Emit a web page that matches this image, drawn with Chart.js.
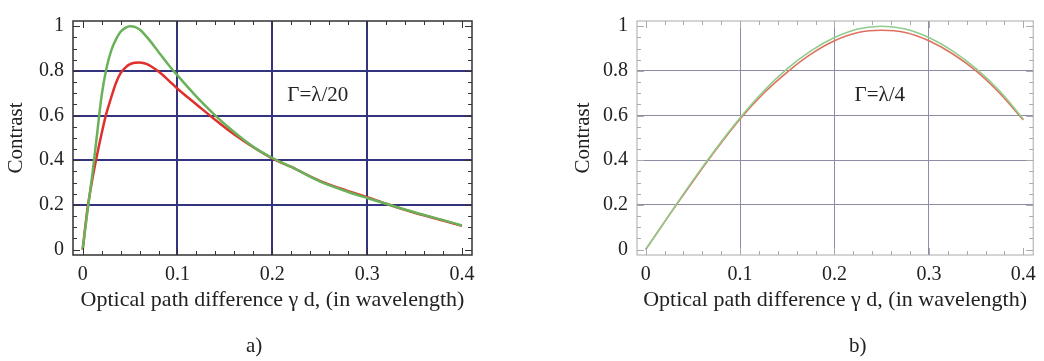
<!DOCTYPE html>
<html>
<head>
<meta charset="utf-8">
<script src="https://cdn.jsdelivr.net/npm/chart.js@4.4.1/dist/chart.umd.min.js"></script>
<style>
  body { margin: 0; background: #fff; width: 1044px; height: 361px; position: relative; overflow: hidden; }
  canvas { position: absolute; top: 0; }
  #chartA { left: 0; }
  #chartB { left: 544px; }
  .panel { position: absolute; top: 333px; font: 21px "Liberation Serif", "Times New Roman", serif; color: #222; }
</style>
</head>
<body>
<canvas id="chartA" width="520" height="361"></canvas>
<canvas id="chartB" width="500" height="361"></canvas>
<div class="panel" style="left:246px">a)</div>
<div class="panel" style="left:849px">b)</div>
<script>
// axis ticks shared by both panels
const xTickValues = [0, 0.1, 0.2, 0.3, 0.4];
const xTickLabels = ["0", "0.1", "0.2", "0.3", "0.4"];
const yTickValues = [0, 0.2, 0.4, 0.6, 0.8, 1];
const yTickLabels = ["0", "0.2", "0.4", "0.6", "0.8", "1"];

// panel a) Γ = λ/20
const aX = [0, 0.005, 0.01, 0.015, 0.02, 0.025, 0.03, 0.035, 0.04, 0.045, 0.05, 0.055, 0.06, 0.065, 0.07, 0.08, 0.09, 0.1,
            0.12, 0.14, 0.16, 0.18, 0.2, 0.22, 0.25, 0.28, 0.3, 0.32, 0.35, 0.38, 0.4];
const aGreen = [0, 0.17, 0.33, 0.51, 0.69, 0.81, 0.89, 0.94, 0.975, 0.993, 1.0, 0.997, 0.985, 0.965, 0.94, 0.885, 0.83, 0.78,
                0.685, 0.6, 0.525, 0.46, 0.41, 0.37, 0.305, 0.258, 0.231, 0.205, 0.167, 0.132, 0.108];
const aRed = [0, 0.18, 0.31, 0.42, 0.52, 0.61, 0.68, 0.745, 0.79, 0.815, 0.83, 0.837, 0.838, 0.834, 0.826, 0.797, 0.76, 0.72,
              0.65, 0.58, 0.515, 0.458, 0.408, 0.37, 0.308, 0.262, 0.235, 0.205, 0.165, 0.13, 0.106];

// panel b) Γ = λ/4
const bX = [0, 0.025, 0.05, 0.075, 0.1, 0.125, 0.15, 0.175, 0.2, 0.225, 0.25, 0.275, 0.3, 0.325, 0.35, 0.375, 0.4];
const bGreen = [0, 0.156, 0.31, 0.455, 0.59, 0.71, 0.81, 0.89, 0.95, 0.988, 1.0, 0.988, 0.95, 0.89, 0.81, 0.71, 0.585];
const bRed = [0, 0.155, 0.305, 0.45, 0.585, 0.70, 0.795, 0.875, 0.935, 0.972, 0.982, 0.972, 0.935, 0.877, 0.80, 0.70, 0.58];

const xTitle = "Optical path difference γ d, (in wavelength)";
const yTitle = "Contrast";

const SERIF = '"Liberation Serif", "Times New Roman", serif';

function pts(xs, ys) {
    return xs.map((x, i) => ({ x: x, y: ys[i] }));
}

// frame with inward ticks on all four sides + the Γ label
const framePlugin = {
    id: "frame",
    afterDraw(chart, args, o) {
        const { ctx, chartArea: a, scales: { x, y } } = chart;
        ctx.save();
        ctx.strokeStyle = o.color;
        ctx.lineWidth = o.width;
        ctx.strokeRect(a.left, a.top, a.right - a.left, a.bottom - a.top);

        ctx.lineWidth = 1;
        ctx.beginPath();
        for (let i = 0; i <= 20; i++) {
            const px = Math.round(x.getPixelForValue(i * 0.02)) + 0.5;
            const len = i % 5 === 0 ? 7 : 4;
            ctx.moveTo(px, a.bottom); ctx.lineTo(px, a.bottom - len);
            ctx.moveTo(px, a.top); ctx.lineTo(px, a.top + len);
        }
        for (let i = 0; i <= 20; i++) {
            const py = Math.round(y.getPixelForValue(i * 0.05)) + 0.5;
            const len = i % 4 === 0 ? 7 : 4;
            ctx.moveTo(a.left, py); ctx.lineTo(a.left + len, py);
            ctx.moveTo(a.right, py); ctx.lineTo(a.right - len, py);
        }
        ctx.stroke();

        ctx.fillStyle = "#222";
        ctx.font = "21px " + SERIF;
        ctx.textAlign = "center";
        ctx.textBaseline = "middle";
        ctx.fillText(o.label, x.getPixelForValue(o.labelX), y.getPixelForValue(o.labelY));
        ctx.restore();
    }
};

function makeChart(id, cfg) {
    return new Chart(document.getElementById(id), {
        type: "line",
        data: {
            datasets: [
                { data: pts(cfg.xs, cfg.green), borderColor: cfg.greenColor, borderWidth: cfg.lineWidth },
                { data: pts(cfg.xs, cfg.red), borderColor: cfg.redColor, borderWidth: cfg.lineWidth }
            ]
        },
        options: {
            responsive: false,
            animation: false,
            layout: { padding: { top: cfg.top, right: cfg.right, bottom: 46, left: 0 } },
            elements: {
                point: { radius: 0 },
                line: { tension: 0.4, cubicInterpolationMode: "monotone" }
            },
            plugins: {
                legend: { display: false },
                tooltip: { enabled: false },
                frame: { color: cfg.frameColor, width: cfg.frameWidth, label: cfg.label, labelX: 0.248, labelY: 0.69 }
            },
            scales: {
                x: {
                    type: "linear",
                    min: cfg.xMin, max: cfg.xMax,
                    afterBuildTicks: s => { s.ticks = xTickValues.map(v => ({ value: v })); },
                    afterFit: s => { s.height = 60; },
                    ticks: {
                        color: "#222", padding: 8, maxRotation: 0,
                        font: { family: SERIF, size: 20 },
                        callback: (v, i) => xTickLabels[i]
                    },
                    grid: {
                        drawTicks: false,
                        color: c => (c.tick && c.tick.value > 0.001 && c.tick.value < 0.399) ? cfg.gridColor : "rgba(0,0,0,0)",
                        lineWidth: cfg.gridWidth
                    },
                    border: { display: false },
                    title: {
                        display: true, text: xTitle, color: "#222",
                        font: { family: SERIF, size: 22 }, padding: { top: 0, bottom: 2 }
                    }
                },
                y: {
                    type: "linear",
                    min: -0.0243, max: 1.0235,
                    afterBuildTicks: s => { s.ticks = yTickValues.map(v => ({ value: v })); },
                    afterFit: s => { s.width = cfg.yWidth; },
                    ticks: {
                        color: "#222", padding: 9,
                        font: { family: SERIF, size: 20 },
                        callback: (v, i) => yTickLabels[i]
                    },
                    grid: {
                        drawTicks: false,
                        color: c => (c.tick && c.tick.value > 0.001 && c.tick.value < 0.999) ? cfg.gridColor : "rgba(0,0,0,0)",
                        lineWidth: cfg.gridWidth
                    },
                    border: { display: false },
                    title: {
                        display: true, text: yTitle, color: "#222",
                        font: { family: SERIF, size: 21 }, padding: { top: cfg.yTitlePad, bottom: 0 }
                    }
                }
            }
        },
        plugins: [framePlugin]
    });
}

makeChart("chartA", {
    xs: aX, green: aGreen, red: aRed,
    greenColor: "#6ab25a", redColor: "#e0302c", lineWidth: 2.5,
    gridColor: "#33337f", gridWidth: 2,
    frameColor: "#333", frameWidth: 1.5,
    label: "Γ=λ/20",
    top: 9, right: 48, yWidth: 73, yTitlePad: 4,
    xMin: -0.0102, xMax: 0.4106
});

makeChart("chartB", {
    xs: bX, green: bGreen, red: bRed,
    greenColor: "#90cc8c", redColor: "#e0705e", lineWidth: 1.6,
    gridColor: "#8c8ca6", gridWidth: 1,
    frameColor: "#aaa", frameWidth: 1,
    label: "Γ=λ/4",
    top: 8, right: 8, yWidth: 93, yTitlePad: 27,
    xMin: -0.0092, xMax: 0.4105
});
</script>
</body>
</html>
